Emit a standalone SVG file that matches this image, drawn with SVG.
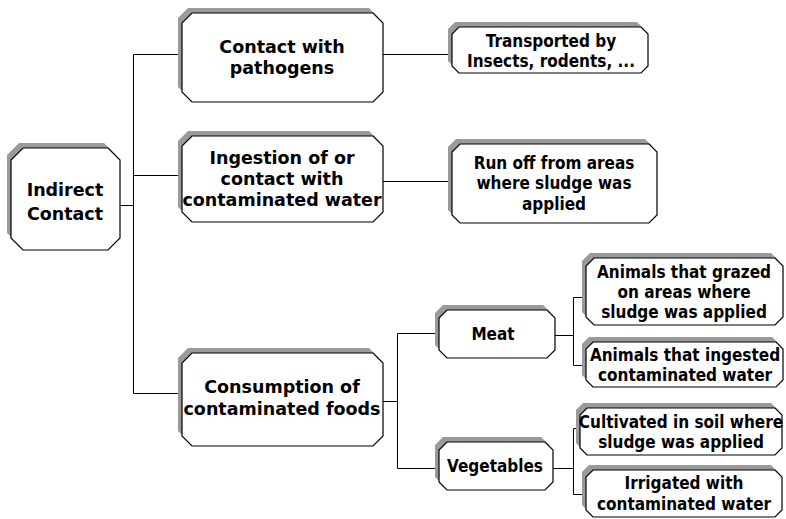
<svg xmlns="http://www.w3.org/2000/svg" width="786" height="519" viewBox="0 0 786 519">
<style>
.sh{fill:#9a9a9a}
.bx{fill:#fff;stroke:#000;stroke-width:1.2}
.ln{fill:none;stroke:#000;stroke-width:1}
.big{font-family:"DejaVu Sans",sans-serif;font-weight:bold;font-size:17.5px;text-anchor:middle;fill:#000}
.sm{font-family:"DejaVu Sans Condensed","DejaVu Sans",sans-serif;font-stretch:condensed;font-weight:bold;font-size:17px;text-anchor:middle;fill:#000}
</style>
<rect width="786" height="519" fill="#fff"/>
<g id="connectors">
<path class="ln" d="M133.5 54.5V393.5M133.5 54.5H182M133.5 175.5H182M133.5 393.5H182M120 205.5H133.5"/>
<path class="ln" d="M383 54.5H452M383 181.5H452"/>
<path class="ln" d="M383 401.5H397.5M397.5 333.5V468.5M397.5 333.5H439M397.5 468.5H439"/>
<path class="ln" d="M555 335.5H573.5M573.5 297.5V365.5M573.5 297.5H586M573.5 365.5H586"/>
<path class="ln" d="M553 468.5H573.5M573.5 428.5V494.5M573.5 428.5H580M573.5 494.5H586"/>
</g>
<g id="indirect">
<path class="sh" transform="translate(-4,-5)" d="M23 148H108L120 160V238L108 250H23L11 238V160Z"/>
<path class="bx" d="M23 148H108L120 160V238L108 250H23L11 238V160Z"/>
<text class="big" x="65" y="196">Indirect</text>
<text class="big" x="65" y="220">Contact</text>
</g>
<g id="pathogens">
<path class="sh" transform="translate(-4,-5)" d="M192 13H373L383 23V92L373 102H192L182 92V23Z"/>
<path class="bx" d="M192 13H373L383 23V92L373 102H192L182 92V23Z"/>
<text class="big" x="282" y="53">Contact with</text>
<text class="big" x="282" y="74">pathogens</text>
</g>
<g id="ingestion">
<path class="sh" transform="translate(-4,-5)" d="M192 136H373L383 146V212L373 222H192L182 212V146Z"/>
<path class="bx" d="M192 136H373L383 146V212L373 222H192L182 212V146Z"/>
<text class="big" x="282" y="164">Ingestion of or</text>
<text class="big" x="282" y="185">contact with</text>
<text class="big" x="282" y="206">contaminated water</text>
</g>
<g id="consumption">
<path class="sh" transform="translate(-4,-5)" d="M192 353H373L383 363V436L373 446H192L182 436V363Z"/>
<path class="bx" d="M192 353H373L383 363V436L373 446H192L182 436V363Z"/>
<text class="big" x="282" y="393">Consumption of</text>
<text class="big" x="282" y="415">contaminated foods</text>
</g>
<g id="transported">
<path class="sh" transform="translate(-4,-5)" d="M459 27H641L648 34V66L641 73H459L452 66V34Z"/>
<path class="bx" d="M459 27H641L648 34V66L641 73H459L452 66V34Z"/>
<text class="sm" x="551" y="47">Transported by</text>
<text class="sm" x="551" y="67">Insects, rodents, ...</text>
</g>
<g id="runoff">
<path class="sh" transform="translate(-4,-5)" d="M460 144H649L657 152V215L649 223H460L452 215V152Z"/>
<path class="bx" d="M460 144H649L657 152V215L649 223H460L452 215V152Z"/>
<text class="sm" x="554" y="169">Run off from areas</text>
<text class="sm" x="554" y="189">where sludge was</text>
<text class="sm" x="554" y="210">applied</text>
</g>
<g id="meat">
<path class="sh" transform="translate(-4,-5)" d="M447 310H547L555 318V350L547 358H447L439 350V318Z"/>
<path class="bx" d="M447 310H547L555 318V350L547 358H447L439 350V318Z"/>
<text class="sm" x="493" y="340">Meat</text>
</g>
<g id="vegetables">
<path class="sh" transform="translate(-4,-5)" d="M447 442H545L553 450V482L545 490H447L439 482V450Z"/>
<path class="bx" d="M447 442H545L553 450V482L545 490H447L439 482V450Z"/>
<text class="sm" x="495" y="472">Vegetables</text>
</g>
<g id="grazed">
<path class="sh" transform="translate(-4,-5)" d="M594 258H775L783 266V317L775 325H594L586 317V266Z"/>
<path class="bx" d="M594 258H775L783 266V317L775 325H594L586 317V266Z"/>
<text class="sm" x="684" y="278">Animals that grazed</text>
<text class="sm" x="684" y="298">on areas where</text>
<text class="sm" x="684" y="318">sludge was applied</text>
</g>
<g id="ingested">
<path class="sh" transform="translate(-4,-5)" d="M593 342H776L783 349V380L776 387H593L586 380V349Z"/>
<path class="bx" d="M593 342H776L783 349V380L776 387H593L586 380V349Z"/>
<text class="sm" x="685" y="361">Animals that ingested</text>
<text class="sm" x="685" y="381">contaminated water</text>
</g>
<g id="cultivated">
<path class="sh" transform="translate(-4,-5)" d="M587 408H775L782 415V448L775 455H587L580 448V415Z"/>
<path class="bx" d="M587 408H775L782 415V448L775 455H587L580 448V415Z"/>
<text class="sm" x="681" y="428">Cultivated in soil where</text>
<text class="sm" x="681" y="448">sludge was applied</text>
</g>
<g id="irrigated">
<path class="sh" transform="translate(-4,-5)" d="M593 470H775L782 477V510L775 517H593L586 510V477Z"/>
<path class="bx" d="M593 470H775L782 477V510L775 517H593L586 510V477Z"/>
<text class="sm" x="684" y="489">Irrigated with</text>
<text class="sm" x="684" y="510">contaminated water</text>
</g>
</svg>
